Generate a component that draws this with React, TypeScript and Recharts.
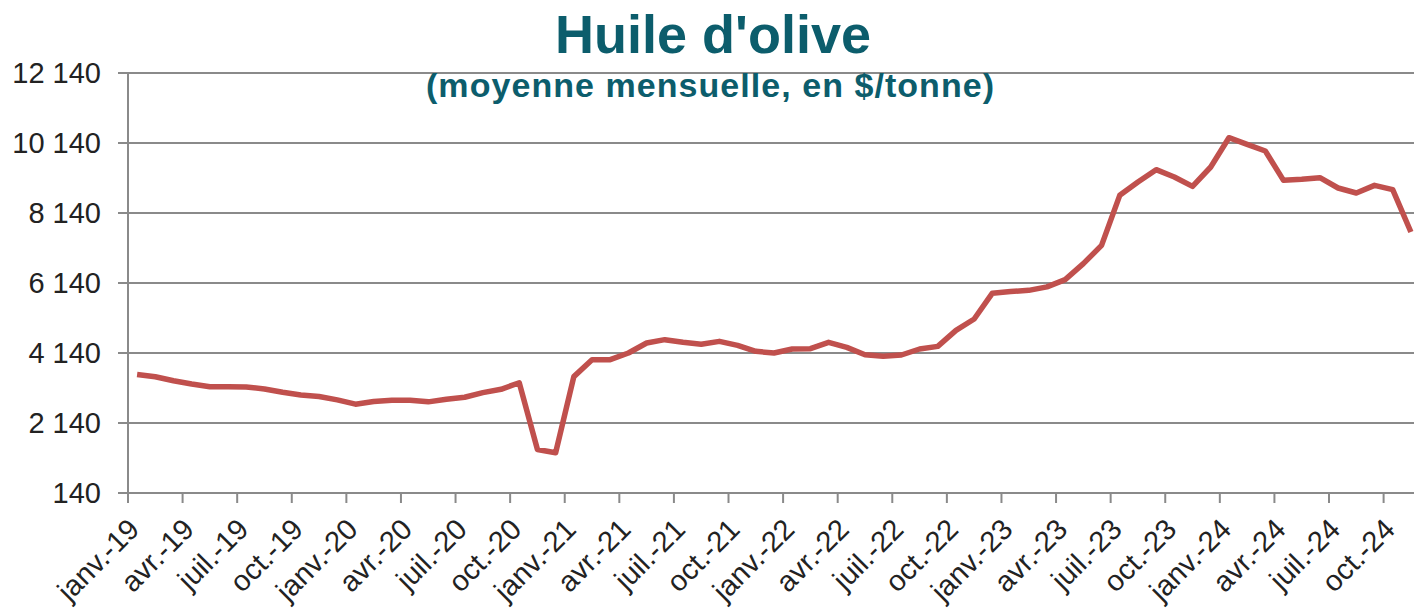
import React from "react";
import { LineChart, Line, XAxis, YAxis, CartesianGrid } from "recharts";

// mois (libellés Excel) et années couvertes
const MONTHS = ["janv.", "févr.", "mars", "avr.", "mai", "juin", "juil.", "août", "sept.", "oct.", "nov.", "déc."];
const YEARS = ["19", "20", "21", "22", "23", "24"];

// prix moyen mensuel, $/tonne, janv.-19 -> nov.-24
const PRICES = [
  3527, 3461, 3348, 3253, 3178, 3178, 3168, 3112, 3017, 2942, 2895, 2800,
  2678, 2753, 2791, 2791, 2744, 2820, 2876, 3008, 3102, 3291, 1385, 1290,
  3465, 3945, 3950, 4140, 4426, 4521, 4445, 4388, 4473, 4359, 4188, 4140,
  4254, 4264, 4445, 4302, 4092, 4045, 4083, 4254, 4330, 4788, 5111, 5850,
  5895, 5930, 6030, 6235, 6692, 7216, 8645, 9026, 9378, 9169, 8902, 9454,
  10292, 10102, 9911, 9073, 9102, 9150, 8854, 8711, 8930, 8807, 7597,
];

const Y_TICKS = [140, 2140, 4140, 6140, 8140, 10140, 12140];

const TITLE = "Huile d'olive";
const SUBTITLE = "(moyenne mensuelle, en $/tonne)";

const CATEGORIES = YEARS.flatMap((y) => MONTHS.map((m) => `${m}-${y}`)).slice(0, PRICES.length);

const data = CATEGORIES.map((m, i) => ({ m, prix: PRICES[i] }));

const FONT = "'Liberation Sans', Arial, sans-serif";
const TEAL = "#0c5d6c";
const GRID = "#8a8a8a";

const CHART_W = 1420;
const PLOT_LEFT = 128;
const AXIS_Y = 493;
// largeur d'une catégorie : les graduations Excel sont entre les mois
const BAND = (CHART_W - PLOT_LEFT) / PRICES.length;

const fmt = (v: number) => String(v).replace(/\B(?=(\d{3})+(?!\d))/g, " ");

function MonthTick(props: any) {
  const { x, payload } = props;
  const tx = x - BAND / 2;
  const ax = tx + 13;
  const ay = AXIS_Y + 38;
  return (
    <g>
      <line x1={tx} y1={AXIS_Y} x2={tx} y2={AXIS_Y + 10} stroke={GRID} strokeWidth={2} />
      <text
        x={ax}
        y={ay}
        transform={`rotate(-45, ${ax}, ${ay})`}
        textAnchor="end"
        fontSize={29}
        fontFamily={FONT}
        fill="#222"
      >
        {payload.value}
      </text>
    </g>
  );
}

export default function App() {
  return (
    <div style={{ position: "absolute", left: 0, top: 0, width: 1414, height: 610, overflow: "hidden", background: "#fff" }}>
      <LineChart width={CHART_W} height={610} data={data} margin={{ top: 73, right: 0, bottom: 0, left: 0 }}>
        <CartesianGrid vertical={false} stroke={GRID} strokeWidth={2} />
        <XAxis
          dataKey="m"
          scale="band"
          interval={2}
          height={117}
          tickSize={10}
          tick={<MonthTick />}
          tickLine={false}
          axisLine={{ stroke: GRID, strokeWidth: 2 }}
        />
        <YAxis
          type="number"
          domain={[140, 12140]}
          ticks={Y_TICKS}
          interval={0}
          width={PLOT_LEFT}
          tickSize={10}
          tickMargin={17}
          tickFormatter={fmt}
          tick={{ fontSize: 29, fontFamily: FONT, fill: "#222" }}
          axisLine={{ stroke: GRID, strokeWidth: 2 }}
          tickLine={{ stroke: GRID, strokeWidth: 2 }}
        />
        <Line
          type="linear"
          dataKey="prix"
          stroke="#c0504d"
          strokeWidth={5.5}
          strokeLinejoin="round"
          dot={false}
          isAnimationActive={false}
        />
      </LineChart>
      <svg width={1414} height={120} style={{ position: "absolute", left: 0, top: 0, pointerEvents: "none" }}>
        <text x={713} y={53} textAnchor="middle" fontSize={54} fontWeight="bold" fontFamily={FONT} fill={TEAL}>
          {TITLE}
        </text>
        <text
          x={710}
          y={97}
          textAnchor="middle"
          fontSize={34}
          fontWeight="bold"
          fontFamily={FONT}
          fill={TEAL}
          textLength={568}
          lengthAdjust="spacing"
        >
          {SUBTITLE}
        </text>
      </svg>
    </div>
  );
}
